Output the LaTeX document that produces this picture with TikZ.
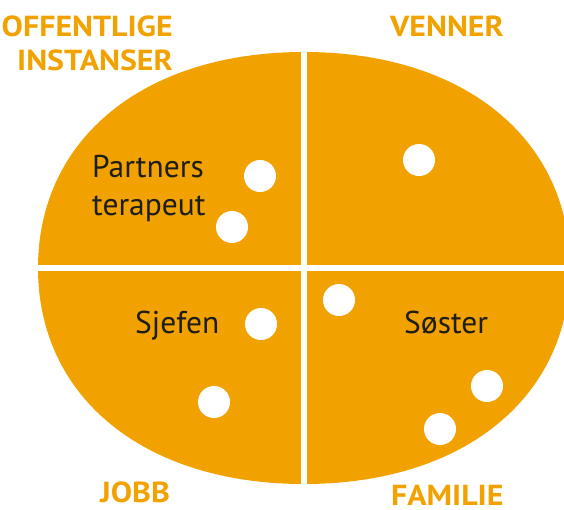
\documentclass[tikz,border=0pt]{standalone}
\usepackage{fontspec}
\setmainfont{PT Sans}
\newfontfamily\sectorfont[FakeStretch=1.1]{PT Sans}
\usetikzlibrary{positioning}
\definecolor{ringorange}{HTML}{F2A200}
\definecolor{ringtext}{HTML}{1D1D1B}
\tikzset{
  dot/.style={circle, fill=white, minimum size=32pt, inner sep=0pt},
  who/.style={inner sep=0pt, text=ringtext, font=\fontsize{31.5}{38}\selectfont},
  sector/.style={inner sep=0pt, text=ringorange, font=\sectorfont\fontsize{29}{34}\selectfont\bfseries}
}
\begin{document}
\begin{tikzpicture}[x=1pt,y=-1pt]
    \useasboundingbox (0,0) rectangle (564,509);
    \begin{scope}
      \clip (0,0) rectangle (564,509);
      \fill[ringorange] (38,268) .. controls (38,138.4) and (144.4,52) .. (304,52)
        .. controls (463.6,52) and (570,138.4) .. (570,268)
        .. controls (570,397.6) and (463.6,484) .. (304,484)
        .. controls (144.4,484) and (38,397.6) .. (38,268) -- cycle;
      \draw[white, line width=6pt] (304,40) -- (304,500);
      \draw[white, line width=6pt] (20,268) -- (570,268);
    \end{scope}

    \node[sector, align=right, anchor=north east] (offentlige) at (173,16) {OFFENTLIGE\\INSTANSER};
    \node[sector, anchor=base west] (venner) at (390,36.7) {VENNER};
    \node[sector, anchor=base west] (jobb) at (100,502.7) {JOBB};
    \node[sector, anchor=base west] (familie) at (391,505.5) {FAMILIE};

    \node[who, align=left, anchor=north west] (partner) at (92,155) {Partners\\terapeut};
    \node[who, anchor=base west] (sjefen) at (135,333) {Sjefen};
    \node[who, anchor=base west] (soster) at (404,333) {Søster};

    \node[dot] (offentlige1) at (260,176) {};
    \node[dot] (offentlige2) at (232,227) {};
    \node[dot] (venner1) at (419,160) {};
    \node[dot] (jobb1) at (261,324) {};
    \node[dot] (jobb2) at (214,402) {};
    \node[dot] (familie1) at (339,300) {};
    \node[dot] (familie2) at (487,386) {};
    \node[dot] (familie3) at (440,429) {};
  \end{tikzpicture}
\end{document}
